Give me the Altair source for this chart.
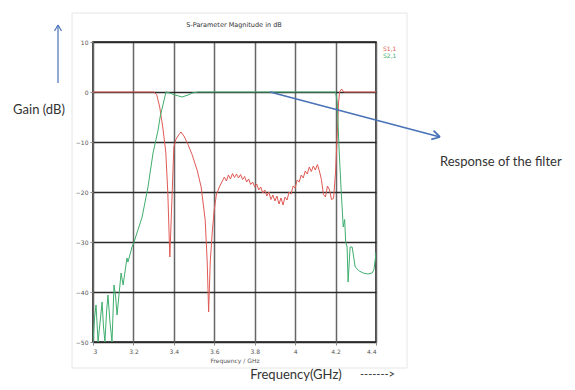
import math
import altair as alt
import pandas as pd

# ---------------- data ----------------
s11_f = [3.0, 3.1, 3.2, 3.3, 3.315, 3.33, 3.345, 3.36, 3.37, 3.38, 3.39, 3.40, 3.41, 3.425,
         3.435, 3.45, 3.47, 3.49, 3.515, 3.535, 3.555, 3.565, 3.572, 3.58, 3.59, 3.60, 3.61,
         3.625, 3.64,
         3.65, 3.66, 3.67, 3.68, 3.69, 3.70, 3.71, 3.72, 3.73, 3.74, 3.75, 3.76, 3.77, 3.78,
         3.79, 3.80, 3.81, 3.82, 3.83, 3.84, 3.85, 3.86, 3.87, 3.88, 3.89, 3.90, 3.91, 3.92,
         3.93, 3.94, 3.95, 3.96, 3.97, 3.98, 3.99, 4.00, 4.01, 4.02, 4.03, 4.04, 4.05, 4.06,
         4.07, 4.08, 4.09, 4.10, 4.11, 4.12, 4.13, 4.14, 4.15, 4.16, 4.17, 4.18, 4.19, 4.20,
         4.21, 4.215, 4.22, 4.23, 4.24, 4.3, 4.4]
s11_db = [0, 0, 0, 0, -0.5, -3, -7, -12, -20, -33, -22, -11, -9.5, -8.5,
          -8, -8.8, -10.5, -12.5, -15.6, -19, -25.6, -34, -44, -34, -28, -23.5, -20.6,
          -19, -17.8,
          -17.0, -17.8, -16.6, -17.4, -16.3, -17.1, -16.4, -17.2, -16.5, -17.5, -16.9, -18.0, -17.4, -18.5,
          -18.0, -19.0, -18.4, -19.6, -19.0, -20.2, -19.6, -20.8, -20.0, -21.5, -20.6, -21.8, -20.8, -22.4,
          -21.2, -22.6, -21.0, -21.6, -20.0, -20.4, -18.8, -19.2, -17.6, -18.0, -16.6, -17.2, -15.8, -16.4,
          -15.0, -15.9, -14.8, -15.6, -14.5, -15.8, -17.5, -20.5, -21.0, -18.8, -19.6, -21.5, -21.3, -16.0,
          -7.0, -2, 0, 0.6, 0, 0, 0]

s21_f = [3.000, 3.008, 3.015, 3.025, 3.035, 3.045, 3.052, 3.059, 3.067, 3.074, 3.084, 3.094,
         3.104, 3.112, 3.119, 3.139, 3.149, 3.168, 3.173, 3.193, 3.203, 3.243, 3.272, 3.297,
         3.322, 3.332, 3.361, 3.38, 3.406, 3.441, 3.47, 3.49, 3.52, 4.2, 4.208, 4.218, 4.228,
         4.238, 4.245, 4.25, 4.257, 4.262, 4.272, 4.282, 4.297, 4.317, 4.337, 4.36, 4.381,
         4.39, 4.396, 4.4]
s21_db = [-50, -45, -42.6, -50, -46, -42, -47, -50, -44, -40.6, -46, -50,
          -38.6, -41, -44.6, -36.2, -38.6, -33.2, -34, -31, -30, -25, -19, -12.2,
          -7.6, -5, 0, -0.2, -0.6, -1, -0.6, -0.2, 0, 0, -2, -12, -20,
          -27, -25.5, -30, -31, -38, -31, -31, -35, -35.8, -36.2, -36.4, -36.2,
          -35.5, -33.6, -32]

series_names = ["S1,1", "S2,1"]
series_colors = ["#e05a55", "#3fae6e"]
x_ticks = [3.0, 3.2, 3.4, 3.6, 3.8, 4.0, 4.2, 4.4]
y_ticks = [10, 0, -10, -20, -30, -40, -50]

df = pd.concat([
    pd.DataFrame({"f": s11_f, "db": s11_db, "s": series_names[0], "i": range(len(s11_f))}),
    pd.DataFrame({"f": s21_f, "db": s21_db, "s": series_names[1], "i": range(len(s21_f))}),
])

W, H = 283, 300
blue = "#4a73b8"
font = "Lato"

# ---------------- panel outline ----------------
panel = alt.Chart(pd.DataFrame({"a": [0]})).mark_rect(
    filled=False, stroke="#e6e6e6", strokeWidth=1
).encode(x=alt.value(-21), x2=alt.value(314), y=alt.value(-29), y2=alt.value(326))

# ---------------- curves ----------------
lines = alt.Chart(df).mark_line(strokeWidth=1, clip=True).encode(
    x=alt.X("f:Q", scale=alt.Scale(domain=[3.0, 4.4], nice=False, zero=False),
            axis=alt.Axis(values=x_ticks, format=".1~f", title="Frequency / GHz",
                          grid=True, gridColor="#666", gridWidth=1.5, tickSize=3,
                          labelFontSize=6, labelColor="#555", labelPadding=3,
                          titleFontSize=6, titleFontWeight="normal", titleColor="#555",
                          titlePadding=3, domain=False, labelFont="DejaVu Sans",
                          titleFont="DejaVu Sans")),
    y=alt.Y("db:Q", scale=alt.Scale(domain=[-50, 10], nice=False),
            axis=alt.Axis(values=y_ticks, title=None, grid=True, gridColor="#2a2a2a",
                          gridWidth=1.5, tickSize=3, labelFontSize=6, labelColor="#555",
                          labelPadding=2, domain=False, labelFont="DejaVu Sans")),
    color=alt.Color("s:N", scale=alt.Scale(domain=series_names, range=series_colors), legend=None),
    detail="s:N",
    order="i:Q",
)

# ---------------- texts ----------------
def txt(t, x, y, size, color="#333", align="center", baseline="middle", f=font):
    return alt.Chart(pd.DataFrame({"t": [t]})).mark_text(
        fontSize=size, color=color, align=align, baseline=baseline, font=f
    ).encode(text="t:N", x=alt.value(x), y=alt.value(y))

title = txt("S-Parameter Magnitude in dB", 141, -17, 6.5, "#333", f="DejaVu Sans")
leg1 = txt(series_names[0], 290, 7, 6, series_colors[0], "left", f="DejaVu Sans")
leg2 = txt(series_names[1], 290, 14, 6, series_colors[1], "left", f="DejaVu Sans")
gain = txt("Gain (dB)", -54, 68, 13)
resp = txt("Response of the filter", 347, 120, 13, align="left")
freq = txt("Frequency(GHz)", 203, 340, 13, baseline="bottom")
arrowtxt = txt("------->", 267, 338, 11, align="left", baseline="bottom")

# ---------------- arrows ----------------
def seg(x1, y1, x2, y2, w=1.5):
    return alt.Chart(pd.DataFrame({"a": [0]})).mark_rule(color=blue, strokeWidth=w).encode(
        x=alt.value(x1), y=alt.value(y1), x2=alt.value(x2), y2=alt.value(y2))

def arrow(x1, y1, x2, y2, w=1.5, head=8):
    dx, dy = x2 - x1, y2 - y1
    L = math.hypot(dx, dy)
    ux, uy = -dx / L, -dy / L
    parts = [seg(x1, y1, x2, y2, w)]
    for a in (math.radians(30), math.radians(-30)):
        rx = ux * math.cos(a) - uy * math.sin(a)
        ry = ux * math.sin(a) + uy * math.cos(a)
        parts.append(seg(x2, y2, x2 + rx * head, y2 + ry * head, w))
    return parts

arrows = arrow(-35, 41, -35, -17, 1.2, 7) + arrow(177, 50, 347, 95, 1.8, 9)

chart = alt.layer(panel, lines, title, leg1, leg2, gain, resp, freq, arrowtxt, *arrows).properties(
    width=W, height=H,
    padding={"left": 85, "top": 34, "right": 191, "bottom": 40},
    autosize=alt.AutoSizeParams(type="none"),
    background="white",
).configure_view(stroke="#111", strokeWidth=1.5)

chart.save("out.html", embed_options={"renderer": "svg", "actions": False})
